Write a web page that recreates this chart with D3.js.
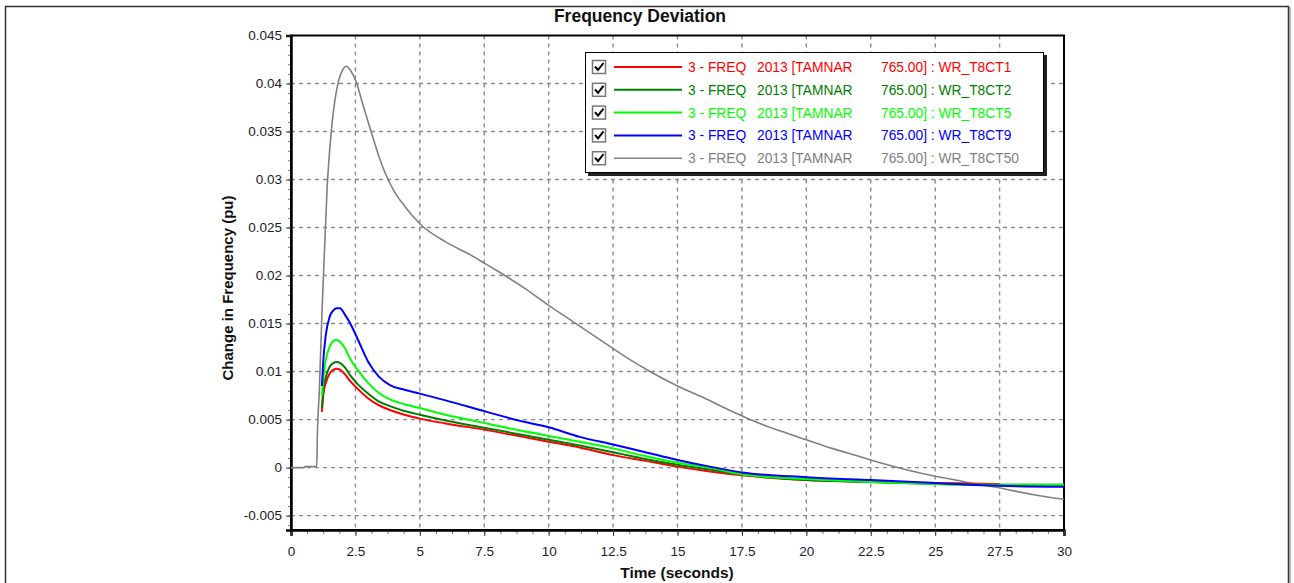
<!DOCTYPE html>
<html lang="en">
<head>
  <meta charset="UTF-8">
  <title>Frequency Deviation</title>
  <style>
    body { margin: 0; background: #fff; }
    svg { display: block; font-family: Arial, "Liberation Sans", sans-serif; }
    .grid line { stroke: #8a8a8a; stroke-width: 1.4; stroke-dasharray: 4 4; }
    .axis path { stroke: #000; stroke-width: 2.5; }
    .axis line { stroke: #333; stroke-width: 1; }
    .axis text { fill: #1c1c2c; font-size: 13.5px; }
    .minor line { stroke: #777; stroke-width: 1; }
    .minor path { display: none; }
    .minor text { display: none; }
    .series { fill: none; stroke-linejoin: round; }
    .legend text { font-size: 13.8px; }
  </style>
</head>
<body>
  <svg id="chart" width="1294" height="583"></svg>
  <script src="https://d3js.org/d3.v7.min.js"></script>
  <script>
    // tick labels
    let xTickLabels = ['0', '2.5', '5', '7.5', '10', '12.5', '15', '17.5', '20', '22.5', '25', '27.5', '30']
    let yTickLabels = ['-0.005', '0', '0.005', '0.01', '0.015', '0.02', '0.025', '0.03', '0.035', '0.04', '0.045']

    // time points shared by the four small curves
    let timeSmall = [1.2, 1.25, 1.35, 1.5, 1.65, 1.77, 1.9, 2.1, 2.3, 2.55, 3.0, 3.4, 3.84, 4.4, 5, 6, 7.6, 9, 10,
      11.2, 12.5, 13.75, 15, 16.25, 17.5, 20, 22.5, 25, 27.5, 30]
    // WR_T8CT1 stops near 27.5 s
    let freqCT1 = [0.0058, 0.0075, 0.0088, 0.0098, 0.0102, 0.0103, 0.0102, 0.0097, 0.0090, 0.0083, 0.0072, 0.0065,
      0.0060, 0.0055, 0.0051, 0.0046, 0.0039, 0.0032, 0.0027, 0.0021, 0.0013, 0.0007, 0.0001, -0.0004, -0.0008,
      -0.0013, -0.0015, -0.0016, -0.0017]
    let freqCT2 = [0.0062, 0.0080, 0.0094, 0.0105, 0.0109, 0.0110, 0.0109, 0.0104, 0.0096, 0.0088, 0.0077, 0.0069,
      0.0064, 0.0059, 0.0055, 0.0049, 0.0041, 0.0034, 0.0029, 0.0023, 0.0016, 0.0009, 0.0003, -0.0002, -0.0007,
      -0.0013, -0.0015, -0.0017, -0.0018, -0.0018]
    let freqCT5 = [0.0075, 0.0092, 0.0112, 0.0126, 0.0132, 0.0133, 0.0131, 0.0124, 0.0113, 0.0103, 0.0088, 0.0078,
      0.0071, 0.0066, 0.0062, 0.0055, 0.0046, 0.0038, 0.0033, 0.0027, 0.0020, 0.0012, 0.0005, 0.0000, -0.0007,
      -0.0012, -0.0015, -0.0017, -0.0018, -0.0018]
    let freqCT9 = [0.0085, 0.0110, 0.0138, 0.0157, 0.0164, 0.0166, 0.0166, 0.0159, 0.0150, 0.0136, 0.0110, 0.0095,
      0.0086, 0.0081, 0.0077, 0.0070, 0.0058, 0.0048, 0.0042, 0.0032, 0.0024, 0.0016, 0.0008, 0.0001, -0.0005,
      -0.0010, -0.0013, -0.0016, -0.0019, -0.0020]

    // WR_T8CT50 has its own time points
    let timeCT50 = [0, 0.5, 0.55, 0.95, 1.0, 1.02, 1.1, 1.2, 1.3, 1.4, 1.5, 1.6, 1.7, 1.85, 2.0, 2.15, 2.3, 2.55, 2.8,
      3.13, 3.4, 3.65, 4.0, 4.42, 5, 6, 7, 7.5, 8, 9, 10, 11, 12, 13, 14, 15, 16, 17, 18, 19, 20, 21, 22, 22.5, 23,
      24, 25, 26, 26.5, 27, 27.5, 28, 29, 30]
    let freqCT50 = [0, 0, 0.0001, 0.0001, 0.0001, 0.003, 0.008, 0.016, 0.0226, 0.029, 0.033, 0.036, 0.0382, 0.0403,
      0.0414, 0.0418, 0.0414, 0.0400, 0.0377, 0.0348, 0.0325, 0.0307, 0.0288, 0.0272, 0.0254, 0.0235, 0.0221, 0.0213,
      0.0205, 0.0188, 0.0169, 0.0151, 0.0133, 0.0115, 0.0099, 0.0085, 0.0073, 0.0060, 0.0048, 0.0038, 0.0029, 0.0020,
      0.0012, 0.0008, 0.0004, -0.0003, -0.0009, -0.0014, -0.0017, -0.0019, -0.0021, -0.0024, -0.0029, -0.0033]

    let seriesNames = ['WR_T8CT1', 'WR_T8CT2', 'WR_T8CT5', 'WR_T8CT9', 'WR_T8CT50']
    let seriesColors = ['#ff0000', '#008000', '#00ff00', '#0000ff', '#808080']

    let series = [
      { name: seriesNames[0], color: seriesColors[0], t: timeSmall, v: freqCT1, w: 2 },
      { name: seriesNames[1], color: seriesColors[1], t: timeSmall, v: freqCT2, w: 2 },
      { name: seriesNames[2], color: seriesColors[2], t: timeSmall, v: freqCT5, w: 2 },
      { name: seriesNames[3], color: seriesColors[3], t: timeSmall, v: freqCT9, w: 2 },
      { name: seriesNames[4], color: seriesColors[4], t: timeCT50, v: freqCT50, w: 1.6 }
    ]

    let svg = d3.select('#chart')
    let plotLeft = 291, plotRight = 1064, plotTop = 35.5, plotBottom = 530

    // outer frame
    svg.append('rect')
      .attr('x', 5.5).attr('y', 6.5).attr('width', 1283).attr('height', 600)
      .attr('fill', '#fff').attr('stroke', '#333').attr('stroke-width', 1.5)
    svg.append('line')
      .attr('x1', 1290).attr('y1', 7).attr('x2', 1290).attr('y2', 583)
      .attr('stroke', '#999').attr('stroke-width', 1.5)

    let x = d3.scaleLinear().domain([0, 30]).range([plotLeft, plotRight])
    let y = d3.scaleLinear().domain([-0.0065, 0.045]).range([plotBottom, plotTop])

    let xTicks = xTickLabels.map(Number)
    let yTicks = yTickLabels.map(Number)

    // grid
    svg.append('g').attr('class', 'grid')
      .selectAll('line')
      .data(xTicks.slice(1, -1))
      .enter().append('line')
      .attr('x1', d => x(d)).attr('x2', d => x(d))
      .attr('y1', plotTop).attr('y2', plotBottom)
    svg.append('g').attr('class', 'grid')
      .selectAll('line')
      .data(yTicks.slice(0, -1))
      .enter().append('line')
      .attr('x1', plotLeft).attr('x2', plotRight)
      .attr('y1', d => y(d)).attr('y2', d => y(d))

    // minor ticks
    let xMinor = d3.range(0, 30.001, 0.625)
    let yMinor = d3.range(-0.006, 0.04501, 0.001)
    svg.append('g').attr('class', 'minor')
      .attr('transform', 'translate(0,' + plotBottom + ')')
      .call(d3.axisBottom(x).tickValues(xMinor).tickSize(4))
    svg.append('g').attr('class', 'minor')
      .attr('transform', 'translate(' + plotLeft + ',0)')
      .call(d3.axisLeft(y).tickValues(yMinor).tickSize(3))

    // plot frame
    svg.append('rect')
      .attr('x', plotLeft).attr('y', plotTop)
      .attr('width', plotRight - plotLeft).attr('height', plotBottom - plotTop)
      .attr('fill', 'none').attr('stroke', '#000').attr('stroke-width', 2)

    // major axes
    svg.append('g').attr('class', 'axis')
      .attr('transform', 'translate(0,' + plotBottom + ')')
      .call(d3.axisBottom(x).tickValues(xTicks).tickSize(6).tickPadding(10)
        .tickFormat((d, i) => xTickLabels[i]))
    svg.append('g').attr('class', 'axis')
      .attr('transform', 'translate(' + plotLeft + ',0)')
      .call(d3.axisLeft(y).tickValues(yTicks).tickSize(5).tickPadding(4)
        .tickFormat((d, i) => yTickLabels[i]))

    // curves
    let line = d3.line()
      .x(d => x(d[0]))
      .y(d => y(d[1]))
      .curve(d3.curveMonotoneX)
    let drawOrder = [4, 0, 1, 2, 3]
    drawOrder.forEach(i => {
      let s = series[i]
      svg.append('path')
        .attr('class', 'series')
        .attr('d', line(s.t.map((t, k) => [t, s.v[k]])))
        .attr('stroke', s.color)
        .attr('stroke-width', s.w)
    })

    // titles
    svg.append('text')
      .attr('x', 640).attr('y', 22)
      .attr('text-anchor', 'middle')
      .attr('font-size', '17.5px').attr('font-weight', 'bold').attr('fill', '#111')
      .text('Frequency Deviation')
    svg.append('text')
      .attr('x', 677).attr('y', 578)
      .attr('text-anchor', 'middle')
      .attr('font-size', '15.5px').attr('font-weight', 'bold').attr('fill', '#111')
      .text('Time (seconds)')
    svg.append('text')
      .attr('transform', 'translate(233,288) rotate(-90)')
      .attr('text-anchor', 'middle')
      .attr('font-size', '15px').attr('font-weight', 'bold').attr('fill', '#111')
      .text('Change in Frequency (pu)')

    // legend
    let lg = svg.append('g').attr('class', 'legend')
    lg.append('rect')
      .attr('x', 588).attr('y', 55).attr('width', 459).attr('height', 121)
      .attr('fill', '#222')
    lg.append('rect')
      .attr('x', 585.5).attr('y', 52.5).attr('width', 458).attr('height', 120)
      .attr('fill', '#fff').attr('stroke', '#000').attr('stroke-width', 1)
    let rows = lg.selectAll('.row')
      .data(series)
      .enter().append('g')
      .attr('class', 'row')
      .attr('transform', (d, i) => 'translate(0,' + (67 + i * 22.8) + ')')
    rows.append('rect')
      .attr('x', 592.5).attr('y', -6.5).attr('width', 13).attr('height', 13)
      .attr('fill', '#fff').attr('stroke', '#777').attr('stroke-width', 1.5)
    rows.append('path')
      .attr('d', 'M595 -0.5 L598 3 L603.5 -4')
      .attr('fill', 'none').attr('stroke', '#000').attr('stroke-width', 2)
    rows.append('line')
      .attr('x1', 614).attr('x2', 682).attr('y1', 0).attr('y2', 0)
      .attr('stroke', d => d.color).attr('stroke-width', d => d.w)
    rows.append('text').attr('x', 688).attr('y', 5)
      .attr('fill', d => d.color).text('3 - FREQ')
    rows.append('text').attr('x', 757).attr('y', 5)
      .attr('fill', d => d.color).text('2013 [TAMNAR')
    rows.append('text').attr('x', 881).attr('y', 5)
      .attr('fill', d => d.color).text(d => '765.00] : ' + d.name)
  </script>
</body>
</html>
